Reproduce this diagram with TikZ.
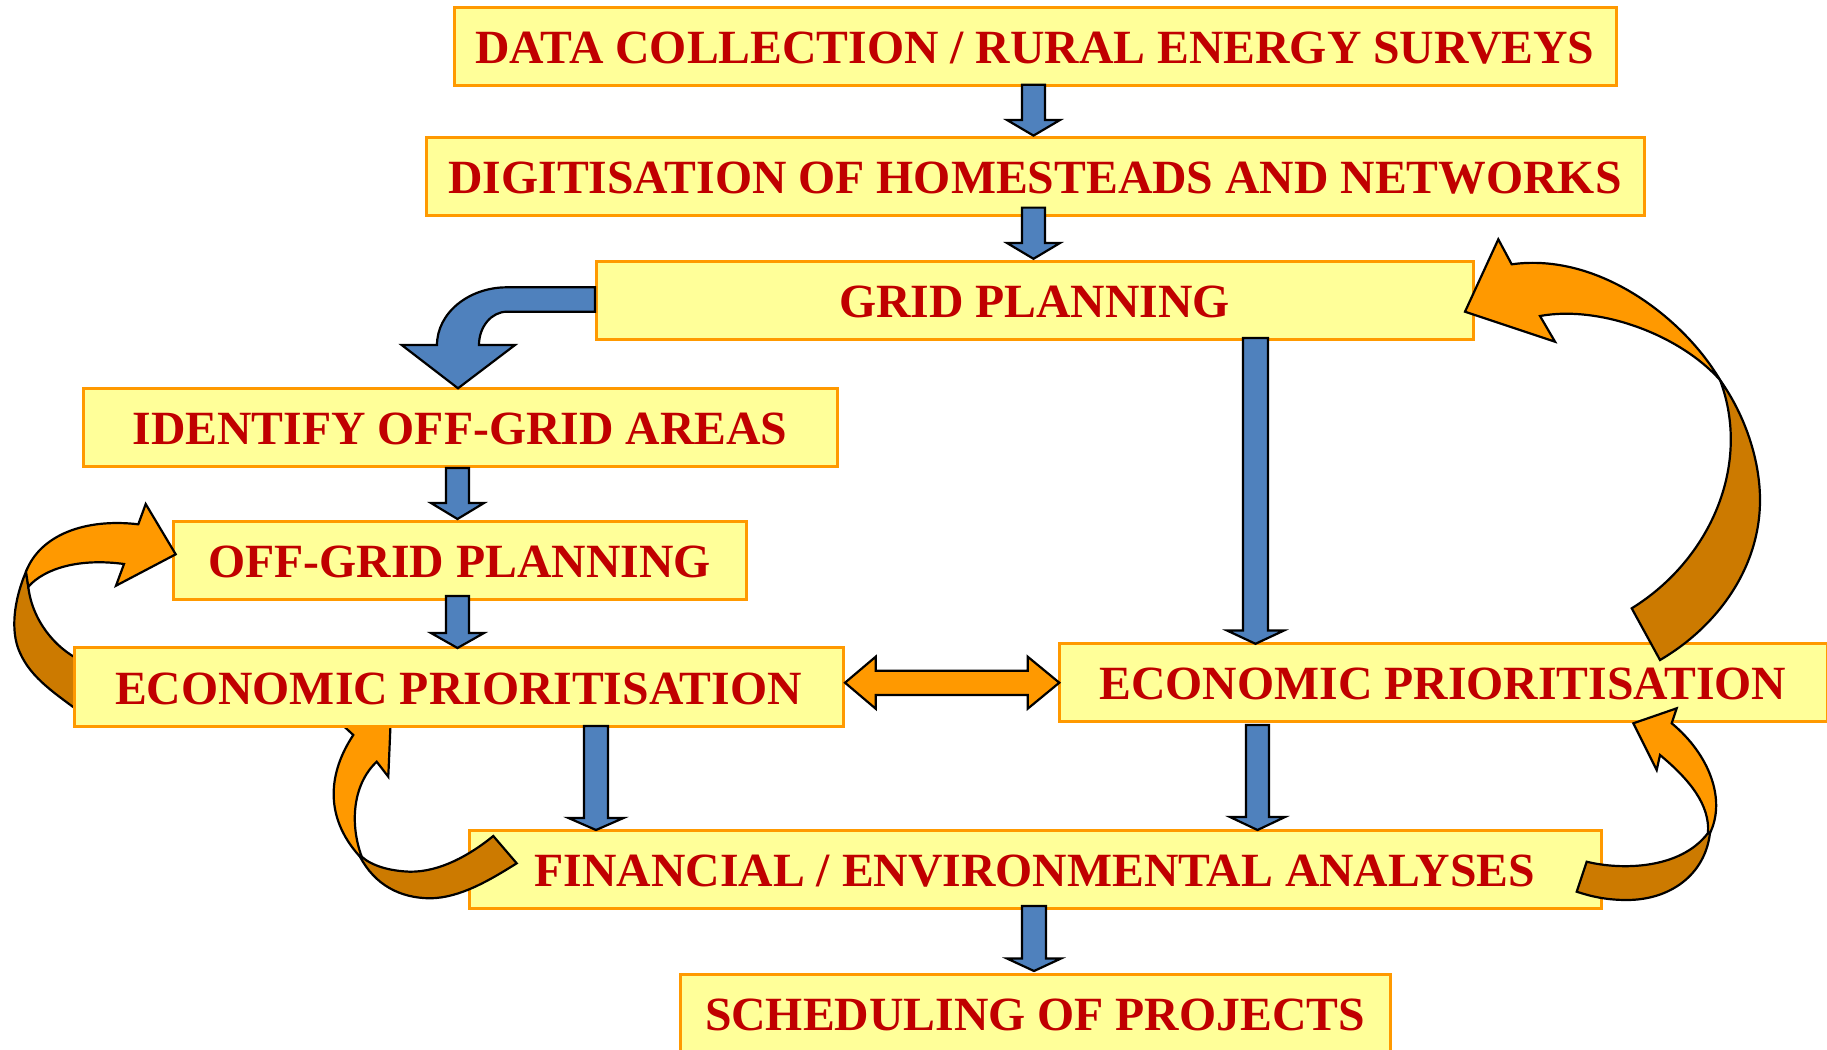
\documentclass[tikz,border=0pt]{standalone}
\usepackage{fontspec}
\setmainfont{Liberation Serif}
\definecolor{boxyellow}{HTML}{FFFF99}
\definecolor{boxorange}{HTML}{FF9900}
\definecolor{textred}{HTML}{C00000}
\definecolor{arrowblue}{HTML}{4F81BD}
\definecolor{orlight}{HTML}{FF9900}
\definecolor{ordark}{HTML}{CC7A00}
\tikzset{
  fbox/.style={draw=boxorange, fill=boxyellow, line width=1.5pt, inner sep=0pt,
    minimum height=39pt, text height=17.6pt, text depth=0pt,
    font=\fontsize{23.85}{28}\selectfont\bfseries, text=textred},
  bluearrow/.style={fill=arrowblue, draw=black, line width=1.1pt, line join=miter},
  orlightpart/.style={fill=orlight, draw=black, line width=1.1pt, line join=miter},
  ordarkpart/.style={fill=ordark, draw=black, line width=1.1pt, line join=miter},
}
\newcommand\blkdown[6]{%
  \filldraw[bluearrow] ({#1-#5},#2) -- ({#1+#5},#2) -- ({#1+#5},#3) -- ({#1+#6},#3)
    -- (#1,#4) -- ({#1-#6},#3) -- ({#1-#5},#3) -- cycle;}
\begin{document}
\begin{tikzpicture}[x=0.5pt,y=-0.5pt]
\useasboundingbox (0,0) rectangle (1827,1050);
% boxes (all but left economic box)
\node[fbox, minimum width=581pt] (b1) at (1035,46) {DATA COLLECTION / RURAL ENERGY SURVEYS};
\node[fbox, minimum width=609pt] (b2) at (1035,176) {DIGITISATION OF HOMESTEADS AND NETWORKS};
\node[fbox, minimum width=438.5pt] (b3) at (1034.5,300) {GRID PLANNING};
\node[fbox, minimum width=377pt] (b4) at (460,427) {IDENTIFY OFF-GRID AREAS};
\node[fbox, minimum width=286.5pt] (b5) at (459.5,560) {OFF-GRID PLANNING};
\node[fbox, minimum width=384pt] (b9) at (1443,682) {ECONOMIC PRIORITISATION};
\node[fbox, minimum width=566pt] (b7) at (1035,869) {FINANCIAL / ENVIRONMENTAL ANALYSES};
\node[fbox, minimum width=355pt] (b8) at (1035,1013) {SCHEDULING OF PROJECTS};

% left loop (economic -> off-grid planning)
\filldraw[ordarkpart] (26,571.7) .. controls (16,595) and (10,625) .. (18,648)
  .. controls (28,675) and (50,690) .. (80,712) -- (80,660)
  .. controls (55,648) and (32,620) .. (28.3,586.7) -- cycle;
\filldraw[orlightpart] (26,571.7) .. controls (40,535) and (85,518) .. (138.3,524.3)
  -- (145.7,504) -- (175.7,554.3) -- (116,585.7) -- (124,564)
  .. controls (80,558) and (45,568) .. (28.3,586.7) -- cycle;

% bottom-left loop (financial -> economic)
\filldraw[orlightpart] (353.3,735) -- (335,718) -- (392,690) -- (388.3,776.7) -- (376.7,761.7)
  .. controls (352,785) and (350,825) .. (361.7,856.7) -- (360,856.7)
  .. controls (322,815) and (330,770) .. (353.3,735) -- cycle;
\filldraw[ordarkpart] (360,856.7) .. controls (375,885) and (400,898) .. (430,898.3)
  .. controls (460,898) and (490,880) .. (516.7,863.3) -- (493.3,836)
  .. controls (470,855) and (440,872) .. (410,871.7)
  .. controls (390,871) and (372,866) .. (361.7,856.7) -- cycle;

% big right loop (economic -> grid planning)
\filldraw[ordarkpart] (1720,380) .. controls (1745,415) and (1760,460) .. (1760,500)
  .. controls (1760,570) and (1715,628) .. (1660,660) -- (1631.7,608.3)
  .. controls (1710,560) and (1752,465) .. (1720,380) -- cycle;
\filldraw[orlightpart] (1720,380) .. controls (1685,320) and (1600,252) .. (1511.7,264.3)
  -- (1498.3,239.3) -- (1465,311.7) -- (1555,341.7) -- (1540,316)
  .. controls (1600,305) and (1680,335) .. (1720,380) -- cycle;

% bottom-right loop (financial -> economic)
\filldraw[ordarkpart] (1710,833) .. controls (1705,875) and (1670,900) .. (1626.7,900)
  .. controls (1605,900) and (1590,896) .. (1576.7,891.7) -- (1586.7,861.7)
  .. controls (1620,870) and (1680,870) .. (1708,833) -- cycle;
\filldraw[orlightpart] (1710,833) .. controls (1726,800) and (1710,755) .. (1671.7,723.3)
  -- (1676.7,708.3) -- (1633.3,723.3) -- (1656.7,770) -- (1660,755)
  .. controls (1690,780) and (1710,805) .. (1708,833) -- cycle;

% left economic box (on top of the loops)
\node[fbox, minimum width=384.5pt, minimum height=39.5pt] (b6) at (458.5,686.5) {ECONOMIC PRIORITISATION};

% blue straight arrows
\blkdown{1033.5}{84.7}{120}{135.6}{11.5}{26.5}
\blkdown{1033.5}{207.6}{243}{258.8}{11.5}{26.5}
\blkdown{1255.5}{338}{630.5}{643.8}{12.5}{28.5}
\blkdown{1257.5}{725}{817}{830}{11.5}{27.5}
\blkdown{1034}{906}{958.5}{971}{12}{27}
\blkdown{457.5}{468}{503}{519}{11.5}{26.5}
\blkdown{457.5}{596}{633}{648}{11.5}{26.5}
\blkdown{596}{726}{818}{830}{12}{27.5}

% bent blue arrow (grid planning -> identify off-grid areas)
\filldraw[bluearrow] (595,287.3) -- (507,287.3)
  .. controls (468.4,287.3) and (437,313.2) .. (437,345)
  -- (401.7,345) -- (458,388.3) -- (515,345) -- (479,345)
  .. controls (479,326.6) and (491.5,311.7) .. (507,311.7)
  -- (595,311.7) -- cycle;

% double orange arrow between economic boxes
\filldraw[orlightpart] (845,682.7) -- (875.7,656.7) -- (875.7,670.7) -- (1027.7,670.7)
  -- (1027.7,656.7) -- (1059.3,682.7) -- (1027.7,708.7) -- (1027.7,695)
  -- (875.7,695) -- (875.7,708.7) -- cycle;
\end{tikzpicture}
\end{document}
